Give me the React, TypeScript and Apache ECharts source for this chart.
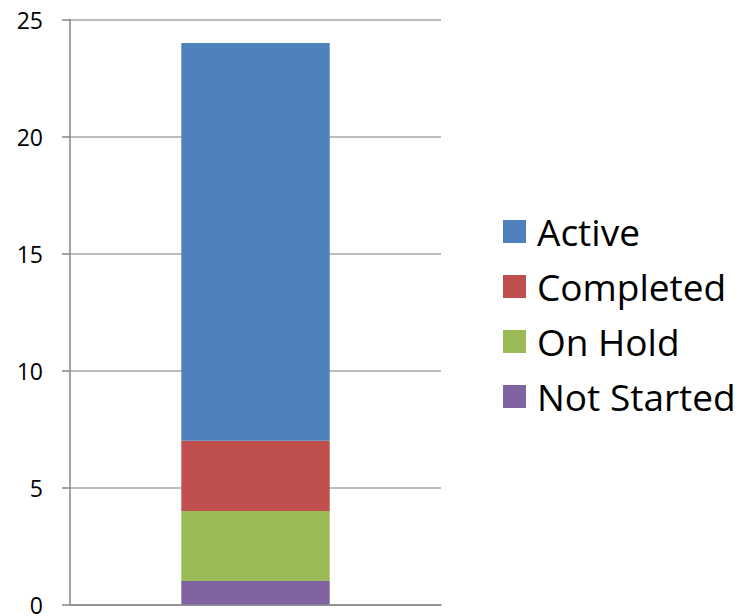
import React, { useEffect, useRef } from "react";
import * as echarts from "echarts";

const categories = ["Status"];
const seriesNames = ["Not Started", "On Hold", "Completed", "Active"];
const notStarted = [1];
const onHold = [3];
const completed = [3];
const active = [17];
const colors = ["#8064A2", "#9BBB59", "#C0504D", "#4F81BD"];
const legendOrder = ["Active", "Completed", "On Hold", "Not Started"];

export default function App() {
  const ref = useRef<HTMLDivElement>(null);
  useEffect(() => {
    if (!ref.current) return;
    const chart = echarts.init(ref.current, null, { renderer: "svg" });
    const values = [notStarted, onHold, completed, active];
    chart.setOption({
      animation: false,
      backgroundColor: "#ffffff",
      textStyle: { fontFamily: "Open Sans" },
      grid: { left: 70, right: 313, top: 19.5, bottom: 8 },
      legend: {
        data: legendOrder,
        orient: "vertical",
        left: 498,
        top: 208,
        itemWidth: 23,
        itemHeight: 23,
        itemGap: 18,
        icon: "rect",
        selectedMode: false,
        textStyle: {
          fontFamily: "Open Sans",
          fontSize: 37,
          color: "#000",
          padding: [0, 0, 0, 6],
        },
      },
      xAxis: {
        type: "category",
        data: categories,
        axisLine: { show: true, lineStyle: { color: "#868686", width: 1.5 } },
        axisTick: { show: false },
        axisLabel: { show: false },
        splitLine: { show: false },
      },
      yAxis: {
        type: "value",
        min: 0,
        max: 25,
        interval: 5,
        axisLine: { show: true, lineStyle: { color: "#868686", width: 1.5 } },
        axisTick: { show: true, length: 8, lineStyle: { color: "#868686", width: 1.5 } },
        axisLabel: {
          margin: 27,
          fontFamily: "Open Sans",
          fontSize: 23,
          color: "#000",
        },
        splitLine: { show: true, lineStyle: { color: "#a6a6a6", width: 1.5 } },
      },
      series: seriesNames.map((name, i) => ({
        name,
        type: "bar",
        stack: "total",
        barWidth: "40%",
        data: values[i],
        itemStyle: { color: colors[i] },
      })),
    });
    return () => chart.dispose();
  }, []);
  return (
    <div
      ref={ref}
      style={{ position: "fixed", left: 0, top: 0, width: 754, height: 616 }}
    />
  );
}
